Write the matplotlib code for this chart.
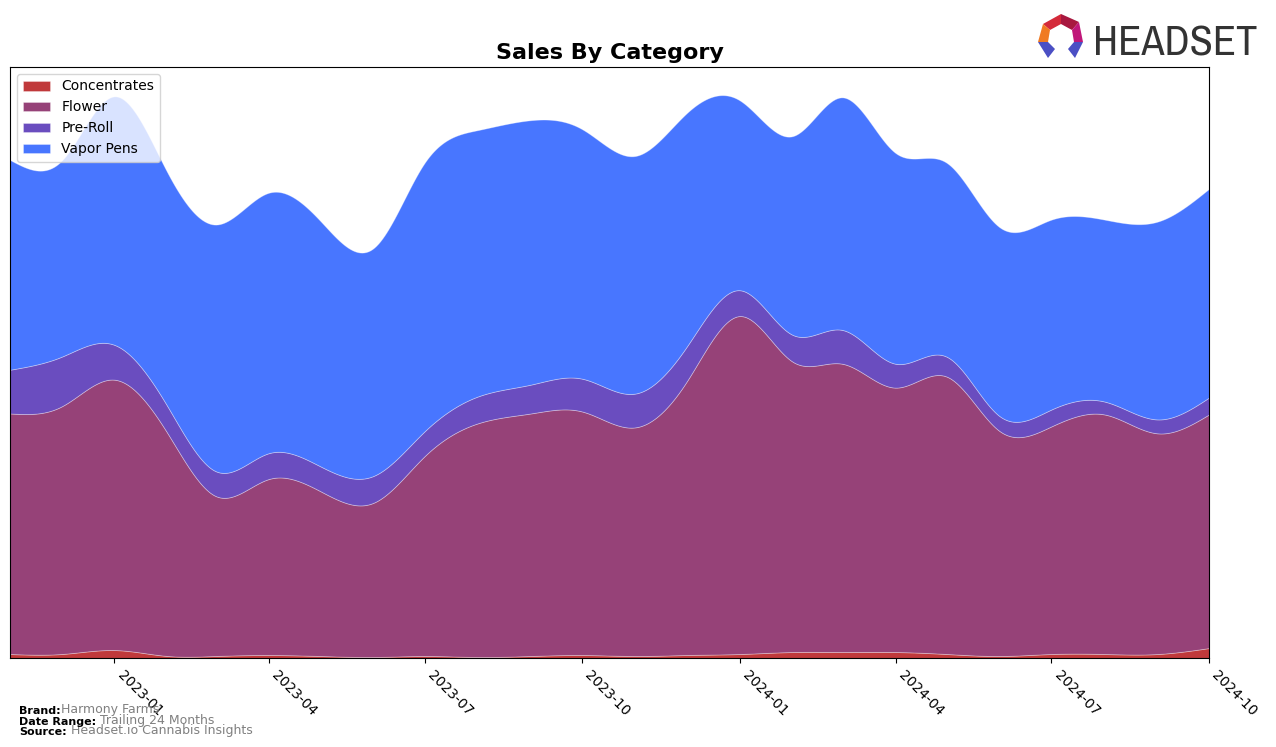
import matplotlib
matplotlib.use("Agg")
import matplotlib.pyplot as plt
import matplotlib.dates as mdates
import numpy as np
import pandas as pd
from matplotlib.patches import Polygon
from matplotlib import font_manager

# monthly sales by category (arbitrary units)
months = pd.date_range("2022-11-01", periods=24, freq="MS")
concentrates = [4, 4, 8, 2, 2, 3, 2, 1, 2, 1, 2, 3, 2, 3, 4, 6, 6, 6, 4, 2, 4, 4, 4, 10]
flower = [242, 249, 272, 224, 161, 177, 166, 155, 201, 235, 244, 245,
          230, 275, 340, 292, 290, 266, 279, 226, 229, 241, 222, 235]
pre_roll = [44, 50, 35, 27, 25, 26, 25, 27, 25, 27, 29, 33,
            34, 35, 26, 27, 34, 24, 20, 15, 17, 13, 14, 17]
vapor_pens = [211, 197, 250, 235, 248, 262, 247, 229, 270, 268, 266, 251,
              239, 235, 191, 200, 234, 212, 195, 190, 191, 183, 199, 210]

labels = ["Concentrates", "Flower", "Pre-Roll", "Vapor Pens"]
colors = ["#c0393b", "#964278", "#6a4dbf", "#4876ff"]


def natural_spline(x, y, n=600):
    """Natural cubic spline through (x, y), evaluated on a dense grid."""
    x = np.asarray(x, float)
    y = np.asarray(y, float)
    k = len(x)
    h = np.diff(x)
    A = np.zeros((k, k))
    b = np.zeros(k)
    A[0, 0] = A[-1, -1] = 1
    for i in range(1, k - 1):
        A[i, i - 1] = h[i - 1]
        A[i, i] = 2 * (h[i - 1] + h[i])
        A[i, i + 1] = h[i]
        b[i] = 6 * ((y[i + 1] - y[i]) / h[i] - (y[i] - y[i - 1]) / h[i - 1])
    m = np.linalg.solve(A, b)
    xs = np.linspace(x[0], x[-1], n)
    idx = np.clip(np.searchsorted(x, xs) - 1, 0, k - 2)
    x0, x1 = x[idx], x[idx + 1]
    hh = x1 - x0
    t0 = x1 - xs
    t1 = xs - x0
    ys = (m[idx] * t0 ** 3 / (6 * hh) + m[idx + 1] * t1 ** 3 / (6 * hh)
          + (y[idx] / hh - m[idx] * hh / 6) * t0
          + (y[idx + 1] / hh - m[idx + 1] * hh / 6) * t1)
    return xs, ys


xnum = mdates.date2num(months)
smooth = []
for series in (concentrates, flower, pre_roll, vapor_pens):
    xs, ys = natural_spline(xnum, series)
    smooth.append(np.clip(ys, 0, None))

fig = plt.figure(figsize=(12.76, 7.47), dpi=100)
ax = fig.add_axes([10 / 1276, 89 / 747, 1199 / 1276, 591 / 747])

ax.stackplot(xs, *smooth, labels=labels, colors=colors,
             edgecolor=(1, 1, 1, 0.35), linewidth=0.6)
ax.set_xlim(xnum[0], xnum[-1])
ax.set_yticks([])
ax.xaxis.set_major_locator(mdates.MonthLocator(bymonth=[1, 4, 7, 10]))
ax.xaxis.set_major_formatter(mdates.DateFormatter("%Y-%m"))
plt.setp(ax.get_xticklabels(), rotation=-45, ha="left")
ax.set_title("Sales By Category", fontsize=16, fontweight="bold")
ax.legend(loc="upper left")

# footer
rows = [("Brand:", "Harmony Farms", 0.0442),
        ("Date Range:", " Trailing 24 Months", 0.0294),
        ("Source:", " Headset.io Cannabis Insights", 0.0161)]
for head, val, yy in rows:
    t = fig.text(19 / 1276, yy, head, fontsize=8, fontweight="bold", va="baseline")
    ax.annotate(val, xy=(1, 0), xycoords=t, xytext=(0, 0), textcoords="offset points",
                fontsize=9, color="gray", va="bottom", annotation_clip=False)

# logo: prefer a narrow face if one is installed
narrow = None
for f in font_manager.fontManager.ttflist:
    if "Narrow" in f.name or "Condensed" in f.name:
        narrow = f.name
        break
if narrow:
    fig.text(1093 / 1276, 1 - 55 / 747, "HEADSET", fontsize=30.5, family=narrow,
             color="#333333", va="baseline", ha="left")
else:
    fig.text(1093 / 1276, 1 - 54 / 747, "HEADSET", fontsize=25.5, family="DejaVu Sans",
             color="#333333", va="baseline", ha="left")


def px(points):
    return [(x / 1276, 1 - y / 747) for x, y in points]


logo_parts = [
    ([(1043, 24), (1061, 14), (1061, 24), (1050, 30)], "#d42a3a"),
    ([(1061, 14), (1079, 22), (1072, 30), (1061, 24)], "#a8183f"),
    ([(1043, 24), (1050, 30), (1048, 42), (1038, 42)], "#f07a22"),
    ([(1079, 22), (1083, 42), (1074, 42), (1072, 30)], "#c0177a"),
    ([(1038, 42), (1048, 42), (1055, 49), (1048, 58)], "#4b4fc4"),
    ([(1074, 42), (1083, 42), (1075, 58), (1068, 49)], "#4b4fc4"),
]
for pts, c in logo_parts:
    fig.add_artist(Polygon(px(pts), closed=True, facecolor=c, edgecolor="none",
                           transform=fig.transFigure))

fig.savefig("out.png", dpi=100)
